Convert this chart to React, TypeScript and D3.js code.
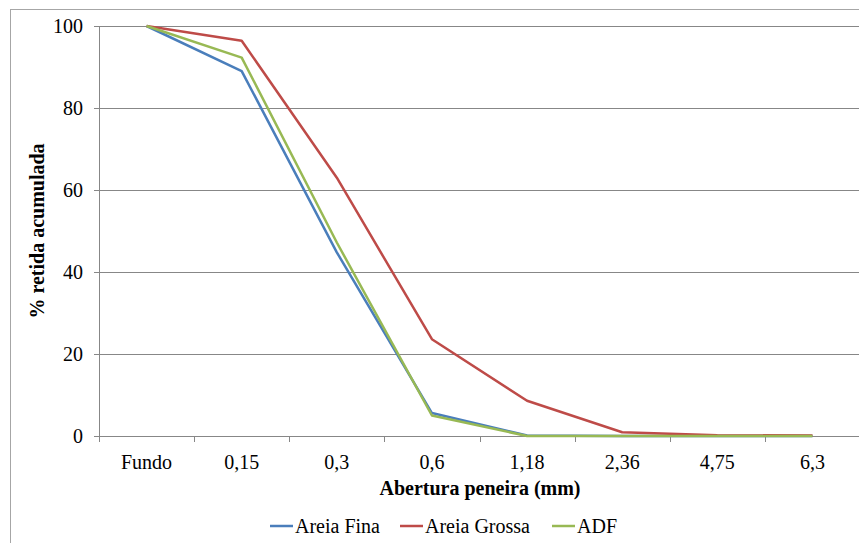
import React from "react";
import * as d3 from "d3";

const categories = ["Fundo", "0,15", "0,3", "0,6", "1,18", "2,36", "4,75", "6,3"];
const areiaFina = [100, 89.0, 44.8, 5.6, 0.1, 0, 0, 0];
const areiaGrossa = [100, 96.4, 63.0, 23.6, 8.6, 0.9, 0.2, 0.1];
const adf = [100, 92.3, 47.2, 5.0, 0, 0, 0, 0];
const yTicks = [0, 20, 40, 60, 80, 100];

const seriesList = [
  { name: "Areia Fina", values: areiaFina, color: "#4a7ebb" },
  { name: "Areia Grossa", values: areiaGrossa, color: "#be4b48" },
  { name: "ADF", values: adf, color: "#98b954" },
];

const W = 859;
const H = 543;
const left = 99;
const right = 860;
const top = 26;
const bottom = 436;

const FONT = "Liberation Serif";

export default function App() {
  const x = d3.scaleBand<string>().domain(categories).range([left, right]);
  const y = d3.scaleLinear().domain([0, 100]).range([bottom, top]);
  const line = d3
    .line<number>()
    .x((_, i) => (x(categories[i]) as number) + x.bandwidth() / 2)
    .y((d) => y(d));
  const grid = "#878787";
  const legendItems = [270, 400, 552];
  const ts = { fontFamily: FONT };
  return (
    <div style={{ position: "absolute", left: 0, top: 0 }}>
      <style>{`#chart text { font-family: "Liberation Serif", "Times New Roman", serif !important; }`}</style>
      <svg id="chart" width={W} height={H} style={{ display: "block", background: "#fff" }}>
        <rect x={10.5} y={9.5} width={900} height={600} fill="none" stroke="#a6a6a6" strokeWidth={1} />
        {yTicks.map((t) => (
          <g key={t}>
            {t > 0 && (
              <line x1={left} x2={right} y1={Math.round(y(t)) + 0.5} y2={Math.round(y(t)) + 0.5} stroke={grid} strokeWidth={1} />
            )}
            <line x1={left - 5} x2={left} y1={Math.round(y(t)) + 0.5} y2={Math.round(y(t)) + 0.5} stroke={grid} />
            <text style={ts} fontFamily={FONT} x={left - 16} y={y(t) + 7} textAnchor="end" fontSize={20} fill="#000">
              {t}
            </text>
          </g>
        ))}
        <line x1={left + 0.5} x2={left + 0.5} y1={top} y2={bottom} stroke={grid} />
        <line x1={left} x2={right} y1={bottom + 0.5} y2={bottom + 0.5} stroke={grid} />
        {categories.map((c) => (
          <g key={c}>
            <line
              x1={Math.round(x(c) as number) + 0.5}
              x2={Math.round(x(c) as number) + 0.5}
              y1={bottom}
              y2={bottom + 6}
              stroke={grid}
            />
            <text
              style={ts}
              fontFamily={FONT}
              x={(x(c) as number) + x.bandwidth() / 2}
              y={469}
              textAnchor="middle"
              fontSize={20}
              fill="#000"
            >
              {c}
            </text>
          </g>
        ))}
        {seriesList.map((s) => (
          <path key={s.name} d={line(s.values) as string} fill="none" stroke={s.color} strokeWidth={2.5} strokeLinejoin="round" />
        ))}
        <text style={ts} fontFamily={FONT} x={480} y={495} textAnchor="middle" fontSize={20} fontWeight="bold" fill="#000">
          Abertura peneira (mm)
        </text>
        <text
          style={ts}
          fontFamily={FONT}
          transform={`translate(44, ${(top + bottom) / 2}) rotate(-90)`}
          textAnchor="middle"
          fontSize={20}
          fontWeight="bold"
          fill="#000"
        >
          % retida acumulada
        </text>
        {seriesList.map((s, i) => (
          <g key={s.name}>
            <line x1={legendItems[i]} x2={legendItems[i] + 23} y1={526} y2={526} stroke={s.color} strokeWidth={2.5} />
            <text style={ts} fontFamily={FONT} x={legendItems[i] + 25} y={533} fontSize={20} fill="#000">
              {s.name}
            </text>
          </g>
        ))}
      </svg>
    </div>
  );
}
